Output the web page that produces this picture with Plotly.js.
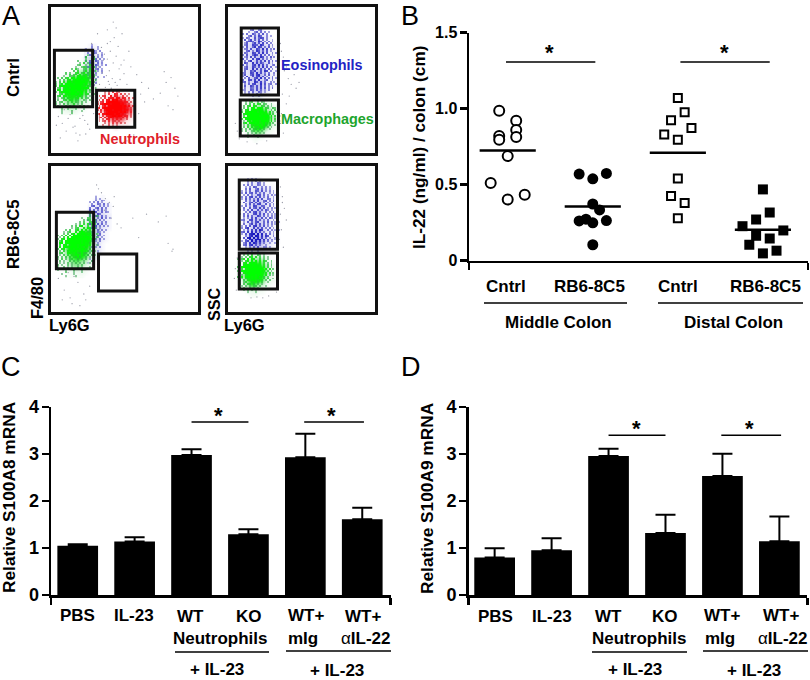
<!DOCTYPE html>
<html>
<head>
<meta charset="utf-8">
<script src="https://cdn.plot.ly/plotly-3.0.1.min.js"></script>
<style>html,body{margin:0;padding:0;background:#fff}#chart{width:810px;height:680px}</style>
</head>
<body>
<div id="chart"></div>
<script>
/* ---------- Panel A: gates (x0,x1,y0,y1) in plot units ---------- */
const gatesA1 = [[4,43,47,105],[47,86,26,64]];
const gatesA2 = [[14,52,59,128],[13,52,17,54]];
const gatesA3 = [[6,44,44,102],[49,88,21,59]];
const gatesA4 = [[12,51,64,135],[12,51,23,60]];

/* ---------- Panel A: broad density, rows top to bottom, one digit per 4-unit cell ---------- */
const a1GreenSoftTop = 96, a1GreenSoftLeft = 2;
const a1GreenSoft = ["000000001221","000000012321","000000123431","000001345541","000124567651","001346789751","012578999741","013689998631","013799987521","013688876421","012577654310","012456543210","001345432100","001233211000","000111100000"];
const a1BlueSoftTop = 110, a1BlueSoftLeft = 36;
const a1BlueSoft = ["01100","12210","23310","24421","24321","34321","34210","34210","23110","12100","11000"];
const a1RedSoftTop = 64, a1RedSoftLeft = 46;
const a1RedSoft = ["00000110000","00012332100","00135665310","01257998631","02479999752","02579999852","01468998641","01356776421","00234554210","00012221100","00000100000"];
const a2BlueSoftTop = 128, a2BlueSoftLeft = 12;
const a2BlueSoft = ["00000110000","00023320000","00234532100","01235432100","01345543210","02354654210","02345563210","01346542210","02235653210","01346754310","02356463210","02345643110","01346753210","02256542210","01345653110","02356542210","01245643100","00123321000","00011100000"];
const a2GreenSoftTop = 56, a2GreenSoftLeft = 12;
const a2GreenSoft = ["00001100000","00123322100","01234554321","01357775431","02469998531","02479999632","02479999531","02468997421","01357764211","00235542100","00012210000","00001000000"];
const a3BlueSoftTop = 118, a3BlueSoftLeft = 40;
const a3BlueSoft = ["000100","012210","123321","234321","345421","345432","344321","345321","344321","345210","344210","234210","234100","123100","123100","122000","121000","110000"];
const a3GreenSoftTop = 100, a3GreenSoftLeft = 4;
const a3GreenSoft = ["000000000110","000000011221","000000123331","000001234431","000012456641","000124578741","001346789841","012468999741","013689999631","013699998521","013578987421","012467876321","012356654210","011245543210","001234432110","000112221000","000011110000"];
const a4BlueSoftTop = 136, a4BlueSoftLeft = 12;
const a4BlueSoft = ["00011100000","00123210000","00123332100","00234543200","01235432211","01345543211","01346543210","01235653211","01345643211","01246542211","01345643210","01356543211","01245643211","01356753211","01467653210","01478764211","01489864311","01367643210","00134432100","00012110000"];
const a4GreenSoftTop = 60, a4GreenSoftLeft = 8;
const a4GreenSoft = ["00012221000","00134443200","01246665310","01368886421","02479998521","02589998531","02579997421","01468886321","01357654210","00235432100","00012211000","00001100000"];

/* ---------- Panel A: events; rows top to bottom, one digit per 2-unit cell ---------- */
const a1GreenTop = 100, a1GreenLeft = 4;
const a1Green = [
"000000000000000000300","000000000000000040003","000000000000000300250","000000000000030004003",
"000000000000205030400","000000000000340020530","000000000002003540305","000000000030520034060",
"000000000405003605204","000000040300560470350","000000305046070380503","000020043507806706040",
"000304056088097080530","003040670899989870704","020506089799999980603","030470899989999790530",
"004078998999999870640","035068979999989980503","050780899999899706042","030678998999789070300",
"004507809989790650330","030460870787068504020","020350607067050430400","003004506605400320300",
"020340030504303020020","003020403005020300000","020003020300204010000","000202003040030000000",
"000030020002000200000","000200003000020000000","000002000030000000000"];
const a1BlueTop = 112, a1BlueLeft = 38;
const a1Blue = [
"0000000000","0020000000","0300200000","2003002000","0352030000","3004300200","0430020300","4003503020",
"0504030200","3040053020","0530040300","4005302030","0440030200","5003402000","0403020300","3050300200",
"0403020000","4030200200","0302030000","3020100000","0203000000","2010200000","0200000000","1000000000"];
const a1RedTop = 64, a1RedLeft = 48;
const a1Red = [
"0000000203002000000","0000203040320000000","0002040065040302000","0030450070650040200",
"0204056708706504030","0305078098906050200","2046089999907065030","0306899989999805030",
"3058099999998907040","0460899999999980503","3050799989999707040","0405899999898950502",
"0360789999890704003","2040678998980650300","0350607870750504020","0203056050604003000",
"0020340504302000000","0002030403030200000","0000200302020000000","0000002000200000000"];
const a2BlueTop = 128, a2BlueLeft = 14;
const a2Blue = [
"00000020300200000000","00000340034000000000","00020035040302000000","00304005304050300000",
"00035040640030200000","02043005046503000000","00503604050403002000","03004564007503040200",
"02500360506040300000","04035006540750040300","02050047065030502000","03405006407060304000",
"02004503075040502000","04300650607050030300","03050047506040402000","00240605007503050300",
"04503006067040302000","03047005050605040300","02064007060530050200","04030056070604003400",
"03500640507050400200","02045007060504050300","04005360050760300200","03400650705030400300",
"02500460670040500200","04307005056050300300","03050046070504040200","02400650607003500300",
"04503007506040030200","03040560070503400300","02050064050604030200","03004305060503040000",
"02300540504020300000","00203040043020000000","00020302030200000000","00000200200000000000"];
const a2GreenTop = 54, a2GreenLeft = 13;
const a2Green = [
"00000200302000000000","00020340030320000000","00304050650430020000","02030560760054030200",
"03050780897054004300","02068089989806003040","04078999979908070302","03068999999980806040",
"04079999989999070503","03089899999998900402","04078999999980806050","02068099979908070302",
"03057089989780605030","02040670807050400200","00305060660050302000","02030405504030020000",
"00203003403020000000","00020203020200000000","00000200200000000000","00002000020000000000"];
const a3BlueTop = 118, a3BlueLeft = 40;
const a3Blue = [
"0000200000","0002020000","0030032000","0203040200","3004304020","0450030302","4003504030","0504030402",
"4050040320","0504053000","5004304020","0503050302","4005403020","0540030300","5030504020","0045030302",
"4050402000","0504030200","5040032020","0350040000","4004302000","0503020200","4030402000","0402030000",
"3030200000","0402020000","3020300000","0302000000","2030200000","0202000000","3020000000","0202000000",
"2010000000","0200000000","1000000000"];
const a3GreenTop = 102, a3GreenLeft = 6;
const a3Green = [
"000000000000000000302","000000000000000003040","000000000000000030203","000000000000002004403",
"000000000000030450030","000000000000304005403","000000000020305060504","000000000304067005030",
"000000020450070860040","000000304005708070503","000020350070898006040","000304068098990080503",
"003040708099998807040","020507089999899980603","030670899989999890503","004708999999989907040",
"030890899999998980503","050780899989998070402","030708989999898700300","040670089899890605030",
"030506080878070504020","040450078070650530300","020405067006050403020","030304050650400302030",
"020403045004030300020","030302004030200200030","020203020302030020000","003020030200203000000",
"020030202003020002000","000202003020020000000","002000200030002000000","000030002000200000000",
"000200000200000000000","000002000020000000000"];
const a4BlueTop = 136, a4BlueLeft = 13;
const a4Blue = [
"000002030200000000000","000030203020000000000","000203004302000000000","000304030043020000000",
"002030540030302000000","000405003504030200000","020304005405030302000","003050450403040020200",
"020403005504030302000","003040560405030400200","020504030605004302020","004030506004503040200",
"020500460504030302000","003050405600503030200","020403065004400402020","004005045060503030200",
"020304060050405302000","003050560400403040200","020403005605050302020","004050400640403030200",
"020305060050405302000","003400560504030400200","020504056004050302020","004003605050403030200",
"020405067040503020000","003057006050503040200","020406070860040302020","004507080705030030200",
"020507890908050402000","003068098070750030200","020508909080604020020","004078098907050302000",
"020560908070504020000","003507086050300200200","020450670403002000000","002030405003302000000",
"000203030202000000000","000020200200000000000"];
const a4GreenTop = 60, a4GreenLeft = 11;
const a4Green = [
"00002030302000000000","00030405004302000000","02030560604030200000","03046070760050302000",
"02057080807064003000","04068098980705030200","03078999990806040300","04089999899080704020",
"05078999999908060300","03089989999990704020","04078999999980605030","03068999899807030200",
"04070899898060403000","02057080807050500200","03040670076050303000","02035006605040020000",
"00304055040302000000","02030304403002000000","00203003020200000000","00020302020000000000",
"00002000200000000000"];
const rowStagger = [0,1,2,0,2,1,1,0,2];

/* ---------- Panel A: individual stray events ---------- */
const a1GreyX = [52,55,58,61,64,67,70,49,53,57,60,63,66,72,75,50,56,59,62,68,71,78,54,58,65,73,80,64,67,61,58,69,75,82,88,93,100,105,112,118,123,127,130,120,116,125,96,90,8,12,16,20,25,30,35,40,44,10,18,23,28,33,38,14,26,6,22,30,36,92,85,78,42,48,60];
const a1GreyY = [108,101,96,104,92,99,86,88,82,79,84,76,72,90,81,70,67,73,66,69,75,70,95,112,118,122,104,134,128,114,126,109,95,88,80,72,66,55,61,72,77,66,58,48,83,44,52,40,37,30,22,39,27,18,33,24,40,15,35,26,12,38,29,44,20,28,42,35,19,60,18,12,112,122,70];
const a2GreyX = [54,57,60,62,65,70,56,58,63,68,73,55,60,54,57,8,10,12,53,55,20,30,40];
const a2GreyY = [112,98,88,76,70,66,60,84,58,80,72,40,50,30,20,30,22,14,70,104,11,9,12];
const a3GreyX = [52,56,60,64,49,47,55,62,68,72,84,98,110,120,125,8,14,20,28,34,40,12,24,36,18,50,65,90,118,124,22,30];
const a3GreyY = [122,116,112,108,126,130,104,96,90,86,96,100,92,70,64,34,22,14,30,18,26,12,36,12,40,84,118,76,98,62,8,6];
const a4GreyX = [54,56,58,60,55,53,57,52,56,54,10,8,7,9,24,30,36,42,50];
const a4GreyY = [128,118,106,94,84,74,66,60,112,100,55,44,34,22,14,15,14,16,20];

/* ---------- Panel B ---------- */
const bCategories = ["Cntrl","RB6-8C5","Cntrl","RB6-8C5"];
const bGroups = ["Middle Colon","Distal Colon"];
const bTicks = [0,0.5,1,1.5];
const bTickLabels = ["0","0.5","1.0","1.5"];
const midCntrlX = [0.90,1.10,1.10,1.10,0.90,0.90,1.00,0.80,1.20,1.00];
const midCntrlY = [0.987,0.921,0.860,0.814,0.820,0.795,0.688,0.511,0.434,0.402];
const midRbX = [1.84,2.16,2.00,2.00,2.08,1.84,1.92,2.00,2.16,2.00];
const midRbY = [0.570,0.574,0.539,0.373,0.334,0.262,0.273,0.249,0.264,0.105];
const disCntrlX = [3.00,3.08,2.92,3.16,2.84,3.00,3.00,2.92,3.08,3.00];
const disCntrlY = [1.070,0.976,0.924,0.873,0.830,0.795,0.541,0.426,0.380,0.279];
const disRbX = [4.00,4.08,3.92,3.76,4.24,3.92,4.08,3.84,4.16,4.00];
const disRbY = [0.469,0.317,0.271,0.227,0.199,0.164,0.146,0.105,0.066,0.048];
const bMeans = [0.725,0.356,0.710,0.203];
const bMeanHalf = 0.33;
const bSig = [[0.98,2.03],[3.03,4.08]];
const bSigY = 1.308;

/* ---------- Panels C and D ---------- */
const barLabels = ["PBS","IL-23","WT","KO","WT+","WT+"];
const barTicks = [0,1,2,3,4];
const s100a8 = [1.05,1.136,2.98,1.29,2.93,1.61];
const s100a8Err = [0.03,0.091,0.12,0.11,0.50,0.245];
const s100a9 = [0.797,0.952,2.96,1.32,2.53,1.143];
const s100a9Err = [0.198,0.254,0.15,0.387,0.475,0.529];
const cSig = [[2.0,3.0],[3.98,5.03]];
const cSigY = 3.68;
const dSig = [[2.0,3.0],[3.98,5.03]];
const dSigY = 3.40;

/* ---------- Layout helpers ---------- */
const W = 810, H = 680;
const FONT = "Liberation Sans, Arial, sans-serif";
const px = v => v / W;
const py = v => 1 - v / H;
const domX = (a,b) => [a/W, b/W];
const domY = (top,bot) => [1-bot/H, 1-top/H];
const annotations = [];
function txt(text, x, y, size, opt) {
  opt = opt || {};
  annotations.push({xref:'paper', yref:'paper', x:px(x), y:py(y), text:text, showarrow:false,
    xanchor:opt.anchor||'center', yanchor:'middle', textangle:opt.angle||0,
    font:{family:FONT, size:size, color:opt.color||'#000', weight:opt.weight===undefined?700:opt.weight}});
}
const traces = [];
const shapes = [];
function soft(rows, left, top, xa, ya, scale) {
  const z = rows.slice().reverse().map(r => r.split('').map(Number));
  traces.push({type:'heatmap', z:z, x0:left, dx:4, y0:top-4*(rows.length-1), dy:4, xaxis:xa, yaxis:ya,
    zmin:0, zmax:9, zsmooth:'best', showscale:false, hoverinfo:'skip', colorscale:scale});
}
function grains(rows, left, top, xa, ya, scale) {
  const n = rows.length;
  const padded = rows.map((r,i) => {
    const s = rowStagger[i % rowStagger.length];
    return '0'.repeat(s) + r + '0'.repeat(2 - s);
  });
  const z = padded.reverse().map(r => r.split('').map(Number));
  traces.push({type:'heatmap', z:z, x0:left-2, dx:2, y0:top-2*(n-1), dy:2, xaxis:xa, yaxis:ya,
    zmin:0, zmax:9, showscale:false, hoverinfo:'skip', colorscale:scale});
}
function specks(x, y, xa, ya, color, size) {
  traces.push({type:'scatter', mode:'markers', x:x, y:y, xaxis:xa, yaxis:ya, hoverinfo:'skip',
    marker:{size:size||1.3, color:color}});
}
function gates(list, xa, ya) {
  list.forEach(g => shapes.push({type:'rect', xref:xa, yref:ya, x0:g[0], x1:g[1], y0:g[2], y1:g[3],
    line:{color:'#111', width:3}, fillcolor:'rgba(0,0,0,0)'}));
}
const GREEN = [[0,'rgba(30,170,50,0)'],[0.1,'rgba(70,150,100,0.4)'],[0.4,'rgba(40,190,60,0.75)'],[0.75,'rgb(20,235,20)'],[1,'rgb(0,255,0)']];
const BLUE  = [[0,'rgba(40,40,190,0)'],[0.15,'rgba(70,70,190,0.4)'],[0.5,'rgba(50,50,195,0.75)'],[1,'rgb(20,20,190)']];
const RED   = [[0,'rgba(220,30,40,0)'],[0.12,'rgba(190,50,60,0.4)'],[0.5,'rgba(235,30,40,0.9)'],[1,'rgb(255,0,0)']];
const GREEN_SOFT = [[0,'rgba(60,200,80,0)'],[0.3,'rgba(60,200,80,0.12)'],[0.55,'rgba(50,215,60,0.5)'],[0.8,'rgb(15,240,15)'],[1,'rgb(0,255,0)']];
const BLUE_SOFT  = [[0,'rgba(90,90,210,0)'],[0.3,'rgba(90,90,210,0.14)'],[1,'rgba(50,50,200,0.55)']];
const RED_SOFT   = [[0,'rgba(235,50,60,0)'],[0.3,'rgba(235,50,60,0.15)'],[0.55,'rgba(235,40,50,0.6)'],[0.8,'rgb(245,15,25)'],[1,'rgb(255,0,0)']];

/* ---------- Panel A traces ---------- */
soft(a1BlueSoft,a1BlueSoftLeft,a1BlueSoftTop,'x','y',BLUE_SOFT);
grains(a1Blue,a1BlueLeft,a1BlueTop,'x','y',BLUE);
soft(a1GreenSoft,a1GreenSoftLeft,a1GreenSoftTop,'x','y',GREEN_SOFT);
grains(a1Green,a1GreenLeft,a1GreenTop,'x','y',GREEN);
soft(a1RedSoft,a1RedSoftLeft,a1RedSoftTop,'x','y',RED_SOFT);
grains(a1Red,a1RedLeft,a1RedTop,'x','y',RED);
specks(a1GreyX,a1GreyY,'x','y','#9a9ca8');
soft(a2BlueSoft,a2BlueSoftLeft,a2BlueSoftTop,'x2','y2',BLUE_SOFT);
grains(a2Blue,a2BlueLeft,a2BlueTop,'x2','y2',BLUE);
soft(a2GreenSoft,a2GreenSoftLeft,a2GreenSoftTop,'x2','y2',GREEN_SOFT);
grains(a2Green,a2GreenLeft,a2GreenTop,'x2','y2',GREEN);
specks(a2GreyX,a2GreyY,'x2','y2','#9a9ca8');
soft(a3BlueSoft,a3BlueSoftLeft,a3BlueSoftTop,'x3','y3',BLUE_SOFT);
grains(a3Blue,a3BlueLeft,a3BlueTop,'x3','y3',BLUE);
soft(a3GreenSoft,a3GreenSoftLeft,a3GreenSoftTop,'x3','y3',GREEN_SOFT);
grains(a3Green,a3GreenLeft,a3GreenTop,'x3','y3',GREEN);
specks(a3GreyX,a3GreyY,'x3','y3','#9a9ca8');
soft(a4BlueSoft,a4BlueSoftLeft,a4BlueSoftTop,'x4','y4',BLUE_SOFT);
grains(a4Blue,a4BlueLeft,a4BlueTop,'x4','y4',BLUE);
soft(a4GreenSoft,a4GreenSoftLeft,a4GreenSoftTop,'x4','y4',GREEN_SOFT);
grains(a4Green,a4GreenLeft,a4GreenTop,'x4','y4',GREEN);
specks(a4GreyX,a4GreyY,'x4','y4','#9a9ca8');
gates(gatesA1,'x','y'); gates(gatesA2,'x2','y2'); gates(gatesA3,'x3','y3'); gates(gatesA4,'x4','y4');

/* ---------- Panel B traces ---------- */
const B = {xaxis:'x5', yaxis:'y5', hoverinfo:'skip', cliponaxis:false};
const openLine = {color:'#000', width:2};
traces.push(Object.assign({type:'scatter',mode:'markers',x:midCntrlX,y:midCntrlY,marker:{symbol:'circle',size:10,color:'#fff',line:openLine}},B));
traces.push(Object.assign({type:'scatter',mode:'markers',x:midRbX,y:midRbY,marker:{symbol:'circle',size:11,color:'#000'}},B));
traces.push(Object.assign({type:'scatter',mode:'markers',x:disCntrlX,y:disCntrlY,marker:{symbol:'square',size:8,color:'#fff',line:openLine}},B));
traces.push(Object.assign({type:'scatter',mode:'markers',x:disRbX,y:disRbY,marker:{symbol:'square',size:10,color:'#000'}},B));
bMeans.forEach((m,i) => traces.push(Object.assign({type:'scatter',mode:'lines',x:[i+1-bMeanHalf,i+1+bMeanHalf],y:[m,m],line:{color:'#000',width:2.5}},B)));
bSig.forEach(s => traces.push(Object.assign({type:'scatter',mode:'lines',x:s,y:[bSigY,bSigY],line:{color:'#000',width:1.5}},B)));

/* ---------- Panels C and D traces ---------- */
function bars(vals, errs, xa, ya, sig, sigY) {
  traces.push({type:'bar', x:vals.map((v,i)=>i), y:vals, xaxis:xa, yaxis:ya, width:0.715, hoverinfo:'skip',
    marker:{color:'#000', line:{width:0}},
    error_y:{type:'data', symmetric:false, array:errs, arrayminus:errs.map(()=>0), color:'#000', thickness:2, width:10}});
  sig.forEach(s => traces.push({type:'scatter', mode:'lines', x:s, y:[sigY,sigY], xaxis:xa, yaxis:ya, hoverinfo:'skip', line:{color:'#000',width:1.5}}));
}
bars(s100a8,s100a8Err,'x6','y6',cSig,cSigY);
bars(s100a9,s100a9Err,'x7','y7',dSig,dSigY);

/* ---------- Axes ---------- */
const boxAxis = (dom, anchor) => ({domain:dom, anchor:anchor, range:[0,150], showgrid:false, zeroline:false, showticklabels:false, ticks:'',
  showline:true, mirror:true, linecolor:'#111', linewidth:3, fixedrange:true});
const xPlot = (dom, anchor, range) => ({domain:dom, anchor:anchor, range:range, showgrid:false, zeroline:false,
  showline:true, linecolor:'#000', linewidth:2.5, ticks:'outside', ticklen:7, tickwidth:2.5, tickcolor:'#000',
  tickmode:'array', tickvals:range, ticktext:['',''], showticklabels:false, fixedrange:true});
const yPlot = (dom, anchor, range, vals, labels, size) => ({domain:dom, anchor:anchor, range:range, showgrid:false, zeroline:false,
  showline:true, linecolor:'#000', linewidth:2.5, ticks:'outside', ticklen:7, tickwidth:2.5, tickcolor:'#000',
  tickmode:'array', tickvals:vals, ticktext:labels, tickfont:{family:FONT,size:size,color:'#000',weight:700}, ticklabelstandoff:-1, fixedrange:true});

const layout = {
  width:W, height:H, margin:{l:0,r:0,t:0,b:0,pad:0}, paper_bgcolor:'#fff', plot_bgcolor:'rgba(0,0,0,0)', showlegend:false,
  xaxis:boxAxis(domX(50.5,197.5),'y'),   yaxis:boxAxis(domY(6.5,152.5),'x'),
  xaxis2:boxAxis(domX(227.5,374.5),'y2'),yaxis2:boxAxis(domY(6.5,152.5),'x2'),
  xaxis3:boxAxis(domX(50.5,197.5),'y3'), yaxis3:boxAxis(domY(165.5,311.5),'x3'),
  xaxis4:boxAxis(domX(227.5,374.5),'y4'),yaxis4:boxAxis(domY(165.5,311.5),'x4'),
  xaxis5:xPlot(domX(469,808),'y5',[0.545,4.53]),
  yaxis5:yPlot(domY(32.7,260.7),'x5',[0,1.5],bTicks,bTickLabels,16),
  xaxis6:xPlot(domX(51.2,390.7),'y6',[-0.466,5.5]),
  yaxis6:yPlot(domY(407,595),'x6',[0,4],barTicks,barTicks.map(String),18),
  xaxis7:xPlot(domX(468.5,807.3),'y7',[-0.459,5.49]),
  yaxis7:yPlot(domY(407,595),'x7',[0,4],barTicks,barTicks.map(String),18),
  annotations:annotations, shapes:shapes
};

/* ---------- Group underlines ---------- */
[[484,627,303],[658,803,303],[175,269,652],[286,391,651],[592,687,652],[703,808,651]].forEach(l =>
  shapes.push({type:'line', xref:'paper', yref:'paper', x0:px(l[0]), x1:px(l[1]), y0:py(l[2]), y1:py(l[2]), line:{color:'#000',width:1.5}}));

/* ---------- Text ---------- */
txt('A',11,16,27,{weight:400}); txt('B',410,16,27,{weight:400});
txt('C',11,367,27,{weight:400}); txt('D',411,367,27,{weight:400});
txt('Cntrl',13,78,16.7,{angle:-90}); txt('RB6-8C5',13,234,16.7,{angle:-90});
txt('F4/80',37,298,16.5,{angle:-90}); txt('SSC',214,304,16.2,{angle:-90});
txt('Ly6G',69,325,16.5); txt('Ly6G',244,325,16.5);
txt('Neutrophils',140,139,14.4,{color:'#e0202a'});
txt('Eosinophils',322,65,14.4,{color:'#2323c4'});
txt('Macrophages',327,119,14.4,{color:'#1ea52d'});

txt('IL-22 (ng/ml) / colon (cm)',419,148,17.2,{angle:-90});
[[506,286],[589,286],[678,286],[765,286]].forEach((p,i)=>txt(bCategories[i],p[0],p[1],17));
txt(bGroups[0],558,322,17); txt(bGroups[1],733,322,17);
txt('*',549.5,53,22); txt('*',724,53,22);

txt('Relative S100A8 mRNA',9,497,17.3,{angle:-90});
txt('Relative S100A9 mRNA',427,498,17.3,{angle:-90});
const cLabelX=[77,134,190,249,306,363], cLabelY=[615,615,616,616,615,616];
barLabels.forEach((t,i)=>txt(t,cLabelX[i],cLabelY[i],17));
txt('Neutrophils',220,638,17); txt('mIg',303,638,17); txt('α<b>IL-22</b>',366,638,17,{weight:400});
txt('+ IL-23',217,669,17); txt('+ IL-23',337,670,17);
txt('*',218,415,22); txt('*',331.5,415,22);
const dLabelX=[495,552,608,665,722,781], dLabelY=[616,616,616,616,615,615];
barLabels.forEach((t,i)=>txt(t,dLabelX[i],dLabelY[i],17));
txt('Neutrophils',639,638,17); txt('mIg',720,638,17); txt('α<b>IL-22</b>',783,638,17,{weight:400});
txt('+ IL-23',635,669,17); txt('+ IL-23',754,670,17);
txt('*',636,428,22); txt('*',749,428,22);

Plotly.newPlot('chart', traces, layout, {displayModeBar:false, staticPlot:true});
</script>
</body>
</html>
